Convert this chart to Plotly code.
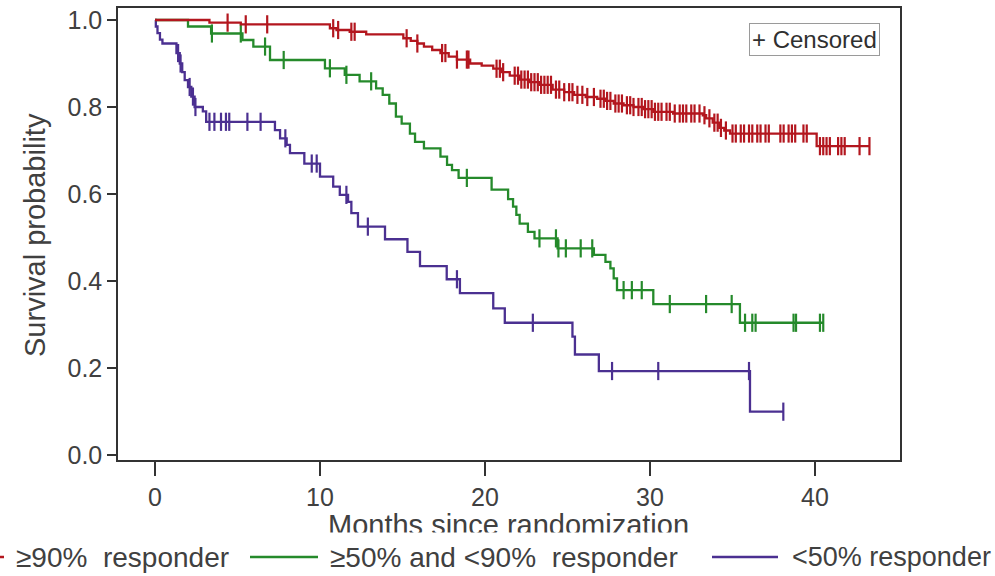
import plotly.graph_objects as go
import bisect

# ---------------- data ----------------
red_times = [0, 3.3, 5.2, 10.6, 11.0, 11.8, 12.8, 15.05, 15.5, 15.9, 16.3, 16.8, 17.3, 17.8,
             18.3, 19.1, 19.8, 20.5, 21.0, 21.5, 22.1, 22.7, 23.3, 24.1, 24.8, 25.4, 26.1,
             26.8, 27.3, 27.8, 28.4, 29.0, 29.6, 30.2, 31.4, 33.2, 33.4, 33.8, 34.2, 34.5,
             34.85, 40.1]
red_surv = [1.0, 0.994, 0.99, 0.981, 0.977, 0.973, 0.967, 0.958, 0.952, 0.946, 0.939, 0.931,
            0.924, 0.916, 0.909, 0.900, 0.895, 0.888, 0.880, 0.872, 0.863, 0.857, 0.851, 0.840,
            0.834, 0.828, 0.823, 0.819, 0.814, 0.808, 0.804, 0.800, 0.795, 0.789, 0.785, 0.781,
            0.774, 0.764, 0.752, 0.746, 0.739, 0.710]
red_censor = [4.4, 5.5, 6.8, 10.8, 11.1, 11.9, 12.1, 15.25, 15.9, 17.4, 17.6, 18.3, 18.9, 19.0,
              20.7, 20.9, 21.1, 21.8, 22.0, 22.2, 22.4, 22.6, 22.8, 23.0, 23.2, 23.4, 23.6,
              23.8, 24.0, 24.3, 24.5, 24.8, 25.1, 25.3, 25.6, 25.9, 26.2, 26.6, 27.0, 27.2,
              27.4, 27.6, 27.9, 28.1, 28.3, 28.6, 28.8, 29.0, 29.3, 29.5, 29.7, 29.9, 30.1,
              30.3, 30.5, 30.7, 31.0, 31.2, 31.5, 31.8, 32.0, 32.2, 32.5, 32.7, 33.0, 33.3,
              33.6, 33.9, 34.1, 34.3, 34.6, 35.0, 35.2, 35.5, 35.7, 36.0, 36.2, 36.5, 36.7,
              37.0, 37.2, 37.9, 38.1, 38.4, 38.6, 38.8, 39.3, 39.5, 40.3, 40.5, 40.7, 40.9,
              41.4, 41.6, 41.8, 42.7, 43.3]

green_times = [0, 2.0, 3.4, 5.3, 5.96, 6.97, 10.3, 11.5, 12.4, 13.4, 13.8, 14.2, 14.6, 14.95,
               15.45, 15.76, 16.3, 17.3, 17.7, 18.0, 18.4, 20.4, 21.4, 21.7, 21.9, 22.1, 22.6,
               23.0, 24.4, 26.6, 27.3, 27.6, 27.8, 28.0, 30.2, 35.45]
green_surv = [1.0, 0.985, 0.969, 0.954, 0.939, 0.908, 0.889, 0.874, 0.859, 0.843, 0.828, 0.808,
              0.778, 0.762, 0.739, 0.720, 0.705, 0.686, 0.667, 0.655, 0.637, 0.610, 0.588,
              0.571, 0.552, 0.532, 0.513, 0.498, 0.475, 0.460, 0.444, 0.429, 0.406, 0.379,
              0.347, 0.304]
green_censor = [3.45, 5.2, 6.67, 7.8, 10.6, 11.6, 13.1, 18.9, 23.3, 24.3, 24.45, 24.9, 25.8,
                26.5, 28.4, 28.9, 29.5, 31.2, 33.4, 34.95, 35.76, 36.2, 36.4, 38.7, 38.85,
                40.3, 40.5]

purple_times = [0, 0.05, 0.15, 0.3, 0.45, 1.3, 1.5, 1.65, 1.8, 2.0, 2.2, 2.4, 2.9, 3.1, 7.27,
                7.58, 7.98, 8.18, 9.05, 10.0, 10.8, 11.2, 11.7, 11.9, 12.3, 13.94, 15.3, 16.06,
                17.68, 18.48, 20.5, 21.2, 25.3, 25.45, 26.9, 36.06]
purple_surv = [1.0, 0.985, 0.97, 0.955, 0.946, 0.924, 0.900, 0.880, 0.862, 0.846, 0.824, 0.800,
               0.790, 0.766, 0.747, 0.728, 0.713, 0.694, 0.670, 0.640, 0.617, 0.598, 0.582,
               0.556, 0.525, 0.496, 0.467, 0.434, 0.404, 0.372, 0.337, 0.304, 0.272, 0.231,
               0.193, 0.0996]
purple_censor = [1.4, 1.55, 2.1, 2.3, 2.45, 3.3, 3.6, 4.0, 4.3, 4.5, 5.6, 6.4, 7.9, 9.5, 9.8,
                 11.6, 12.9, 18.3, 22.9, 27.7, 30.5, 36.0, 38.08]

group_names = ["≥90%  responder", "≥50% and <90%  responder", "<50% responder"]
colors = ["#B3161E", "#258A2B", "#4B3091"]

x_ticks = [0, 10, 20, 30, 40]
y_ticks = [0.0, 0.2, 0.4, 0.6, 0.8, 1.0]
y_ticktext = ["0.0", "0.2", "0.4", "0.6", "0.8", "1.0"]

# ---------------- geometry helpers ----------------
W, H = 995, 576
L, R, T, B = 118, 900, 8, 460          # plot box in pixels


def px(xp):
    return (xp - L) / (R - L)


def py(yp):
    return (B - yp) / (B - T)


def step_value(times, surv, t):
    i = bisect.bisect_right(times, t) - 1
    return surv[max(i, 0)]


groups = [
    (purple_times, purple_surv, purple_censor, colors[2]),
    (green_times, green_surv, green_censor, colors[1]),
    (red_times, red_surv, red_censor, colors[0]),
]

fig = go.Figure()
for times, surv, cens, col in groups:
    end_t = max(max(cens), times[-1])
    xs = list(times) + [end_t]
    ys = list(surv) + [surv[-1]]
    fig.add_trace(go.Scatter(x=xs, y=ys, mode="lines", line=dict(color=col, width=2.3, shape="hv"),
                             showlegend=False, hoverinfo="skip"))
    fig.add_trace(go.Scatter(x=cens, y=[step_value(times, surv, c) for c in cens], mode="markers",
                             marker=dict(symbol="line-ns", size=13, line=dict(width=2.2, color=col)),
                             showlegend=False, hoverinfo="skip"))

FONT = "Liberation Sans, Arial, sans-serif"
TXT = "#404040"
AX = "#333333"

fig.update_layout(
    width=W, height=H,
    margin=dict(l=L, r=W - R, t=T, b=H - B, autoexpand=False),
    paper_bgcolor="white", plot_bgcolor="white",
    font=dict(family=FONT, color=TXT),
)
fig.update_xaxes(range=[(L - 155) / 16.5, (R - 155) / 16.5], tickvals=x_ticks,
                 ticks="outside", ticklen=14, tickwidth=1.5, tickcolor=AX,
                 showline=True, mirror=True, linecolor=AX, linewidth=1.5,
                 showgrid=False, zeroline=False, tickfont=dict(size=25, color=TXT, family=FONT))
fig.update_yaxes(range=[-(B - 455) / 435, 1 + (20 - T) / 435], tickvals=y_ticks, ticktext=y_ticktext,
                 ticks="outside", ticklen=9, tickwidth=1.5, tickcolor=AX,
                 showline=True, mirror=True, linecolor=AX, linewidth=1.5,
                 showgrid=False, zeroline=False, tickfont=dict(size=25, color=TXT, family=FONT))

ann = []
# axis titles
ann.append(dict(text="Months since randomization", x=px(508), y=py(525), xref="paper", yref="paper",
                showarrow=False, xanchor="center", yanchor="middle",
                font=dict(size=29, color=TXT, family=FONT)))
ann.append(dict(text="Survival probability", x=px(35), y=py(235), xref="paper", yref="paper",
                showarrow=False, xanchor="center", yanchor="middle", textangle=-90,
                font=dict(size=29, color=TXT, family=FONT)))
# white band that hides the lower part of the x title (as in the reference crop)
ann.append(dict(text=" ", x=px(508), y=py(541), xref="paper", yref="paper", showarrow=False,
                xanchor="center", yanchor="middle", width=700, height=16, bgcolor="white",
                borderpad=0, font=dict(size=10)))
# censored box
ann.append(dict(text="+ Censored", x=px(814), y=py(39), xref="paper", yref="paper", showarrow=False,
                xanchor="center", yanchor="middle", bgcolor="white", bordercolor="#9a9a9a",
                borderwidth=1, borderpad=2, font=dict(size=24, color="#303030", family=FONT)))
# legend (drawn manually, extends past the page edges as in the reference)
leg_y = 557
leg_items = [(-70, 4, 14), (250, 318, 328), (712, 778, 790)]
leg_sizes = [28, 28, 27]
shapes = []
for (x0, x1, xt), name, col, fs in zip(leg_items, group_names, colors, leg_sizes):
    shapes.append(dict(type="line", xref="paper", yref="paper", x0=px(x0), x1=px(x1),
                       y0=py(leg_y), y1=py(leg_y), line=dict(color=col, width=2.5)))
    ann.append(dict(text=name.replace("  ", "&nbsp; "), x=px(xt), y=py(leg_y), xref="paper",
                    yref="paper", showarrow=False, xanchor="left", yanchor="middle",
                    font=dict(size=fs, color=TXT, family=FONT)))

fig.update_layout(annotations=ann, shapes=shapes)
fig.write_html("out.html")
